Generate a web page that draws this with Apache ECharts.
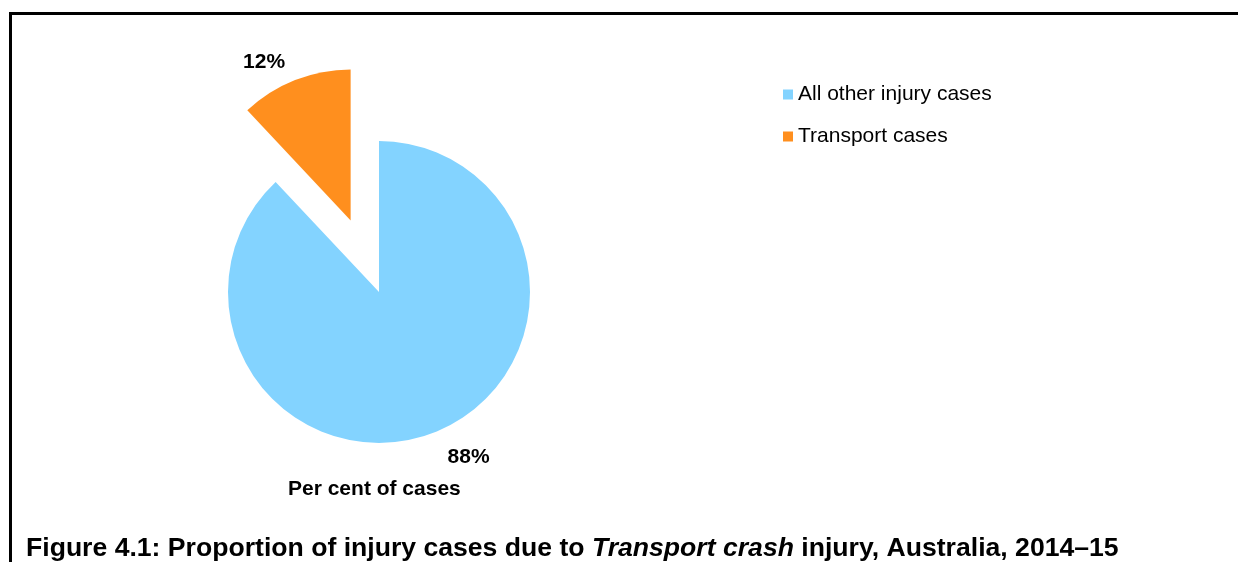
<!DOCTYPE html>
<html>
<head>
<meta charset="utf-8">
<script src="https://cdn.jsdelivr.net/npm/echarts@6/dist/echarts.min.js"></script>
<style>
html,body{margin:0;padding:0;background:#fff;}
#chart{width:1238px;height:562px;}
</style>
</head>
<body>
<div id="chart"></div>
<script>
const categories = ['All other injury cases', 'Transport cases'];
const values = [88, 12];
const colors = ['#83D3FF', '#FF8F1E'];
const labelLengths = [27, 19];
const explodedIndex = 1;

const chart = echarts.init(document.getElementById('chart'), null, {renderer: 'canvas'});
const FONT = '"Liberation Sans", Arial, sans-serif';

const data = categories.map((c, i) => ({
  name: c,
  value: values[i],
  selected: i === explodedIndex,
  itemStyle: {color: colors[i]},
  labelLine: {show: false, length: labelLengths[i], length2: 0}
}));

chart.setOption({
  animation: false,
  backgroundColor: '#fff',
  legend: {
    orient: 'vertical',
    left: 783,
    top: 84,
    padding: 0,
    itemWidth: 10,
    itemHeight: 10,
    itemGap: 21,
    icon: 'rect',
    selectedMode: false,
    data: categories,
    textStyle: {fontFamily: FONT, fontSize: 21, color: '#000', lineHeight: 21}
  },
  graphic: [
    {
      type: 'rect', silent: true,
      shape: {x: 10.5, y: 13.5, width: 1400, height: 700},
      style: {fill: 'none', stroke: '#000', lineWidth: 3}
    },
    {
      type: 'text', silent: true, left: 288, top: 479,
      style: {text: 'Per cent of cases', fontFamily: FONT, fontWeight: 'bold', fontSize: 21, fill: '#000'}
    },
    {
      type: 'text', silent: true, left: 26, top: 535,
      style: {
        text: '{b|Figure 4.1: Proportion of injury cases due to }{i|Transport crash}{b| injury, Australia, 2014–15}',
        fontFamily: FONT, fontWeight: 'bold', fontSize: 26.6, fill: '#000',
        rich: {
          b: {fontFamily: FONT, fontWeight: 'bold', fontSize: 26.6, fill: '#000'},
          i: {fontFamily: FONT, fontWeight: 'bold', fontStyle: 'italic', fontSize: 26.6, fill: '#000'}
        }
      }
    }
  ],
  series: [{
    type: 'pie',
    center: [379, 292],
    radius: 151,
    startAngle: 90,
    clockwise: true,
    selectedMode: 'single',
    selectedOffset: 77,
    avoidLabelOverlap: false,
    emphasis: {disabled: true},
    select: {itemStyle: {borderWidth: 0}},
    label: {
      show: true,
      position: 'outside',
      formatter: p => p.value + '%',
      fontFamily: FONT, fontWeight: 'bold', fontSize: 21, color: '#000',
      distanceToLabelLine: 3
    },
    labelLine: {show: false},
    data: data
  }]
});
</script>
</body>
</html>
